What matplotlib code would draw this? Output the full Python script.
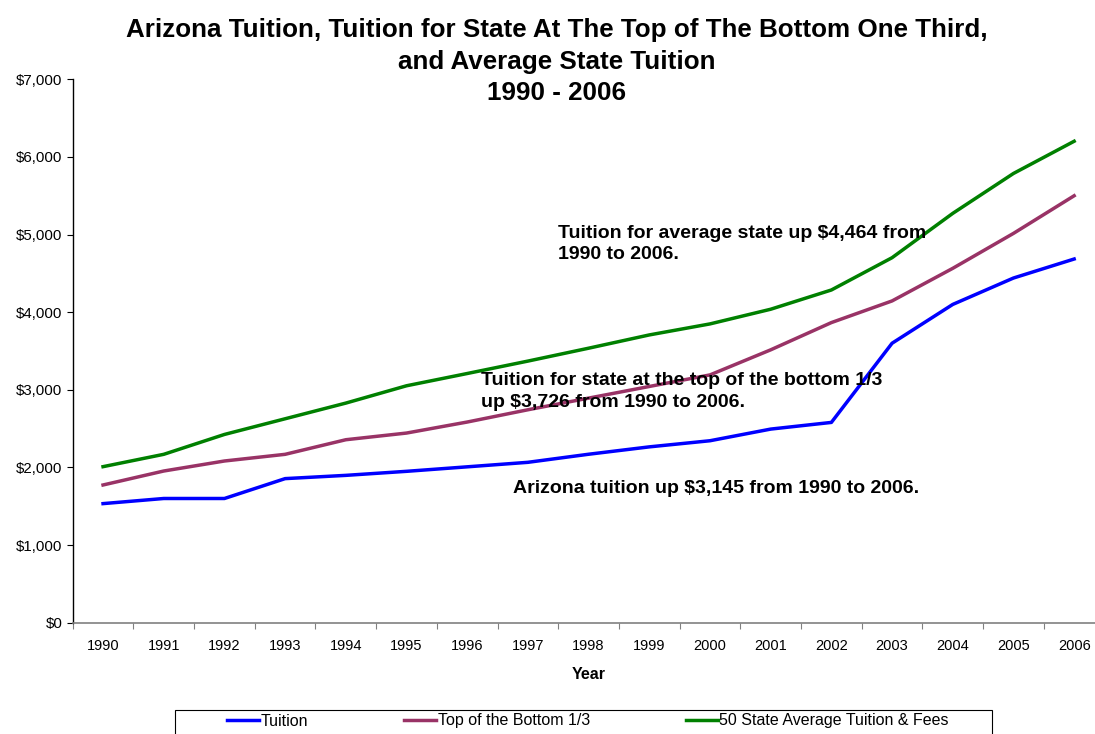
import matplotlib
matplotlib.use('Agg')
import matplotlib.pyplot as plt
from matplotlib.patches import Rectangle

plt.rcParams['font.family'] = ['Liberation Sans', 'DejaVu Sans']

# data
years = ['1990', '1991', '1992', '1993', '1994', '1995', '1996', '1997', '1998',
         '1999', '2000', '2001', '2002', '2003', '2004', '2005', '2006']
arizona = [1534, 1600, 1600, 1856, 1898, 1950, 2008, 2066, 2170,
           2265, 2344, 2494, 2580, 3600, 4100, 4440, 4685]
bottom_third = [1774, 1954, 2083, 2169, 2357, 2443, 2585, 2743, 2893,
                3043, 3192, 3515, 3866, 4145, 4565, 5015, 5500]
state_avg = [2010, 2169, 2425, 2627, 2829, 3052, 3210, 3370, 3536,
             3707, 3849, 4038, 4286, 4702, 5273, 5787, 6202]
series_names = ['Tuition', 'Top of the Bottom 1/3',
                '50 State Average Tuition & Fees']
y_ticks = [0, 1000, 2000, 3000, 4000, 5000, 6000, 7000]
y_labels = ['$0', '$1,000', '$2,000', '$3,000', '$4,000', '$5,000',
            '$6,000', '$7,000']

W, H = 1095, 734
fig = plt.figure(figsize=(W / 100, H / 100), dpi=100)
# plot area runs a little past the right edge, like the original
ax = fig.add_axes([72.7 / W, 1 - 622.7 / H, (1104.5 - 72.7) / W,
                   (622.7 - 79.3) / H])

x = list(range(len(years)))
ax.plot(x, arizona, color='#0000FF', lw=2.5, label=series_names[0])
ax.plot(x, bottom_third, color='#993366', lw=2.5, label=series_names[1])
ax.plot(x, state_avg, color='#008000', lw=2.5, label=series_names[2])

ax.set_xlim(-0.5, len(years) - 0.5)
ax.set_ylim(0, 7000)

# tick marks between categories, labels centred on them
ax.set_xticks([i - 0.5 for i in range(len(years) + 1)])
ax.set_xticklabels([])
ax.set_xticks(x, minor=True)
ax.set_xticklabels(years, minor=True, fontsize=10.5)
ax.tick_params(axis='x', which='major', direction='out', length=4.5,
               width=0.8, color='#808080')
ax.tick_params(axis='x', which='minor', length=0, pad=12)
ax.set_yticks(y_ticks)
ax.set_yticklabels(y_labels, fontsize=10.8)
ax.tick_params(axis='y', direction='out', length=4.5, width=0.8, pad=3)

for side in ['top', 'right']:
    ax.spines[side].set_visible(False)
ax.spines['bottom'].set_color('#808080')
ax.spines['bottom'].set_linewidth(1.2)
ax.spines['left'].set_linewidth(1.0)

ax.set_xlabel('Year', fontsize=11.5, fontweight='bold', labelpad=10)

fig.text(557 / W, 1 - 61.5 / H,
         'Arizona Tuition, Tuition for State At The Top of The Bottom One Third,\n'
         'and Average State Tuition\n1990 - 2006',
         ha='center', va='center', fontsize=18.7, fontweight='bold',
         linespacing=1.4)

# annotations
ax.text(7.50, 4878, 'Tuition for average state up $4,464 from\n1990 to 2006.',
        fontsize=14, fontweight='bold', va='center', ha='left',
        linespacing=1.38)
ax.text(6.23, 2978, 'Tuition for state at the top of the bottom 1/3\n'
        'up $3,726 from 1990 to 2006.',
        fontsize=14, fontweight='bold', va='center', ha='left',
        linespacing=1.38)
ax.text(6.76, 1735, 'Arizona tuition up $3,145 from 1990 to 2006.',
        fontsize=14, fontweight='bold', va='center', ha='left')

# legend box at the bottom (clipped by the figure edge)
fig.patches.append(Rectangle((175 / W, 1 - 745 / H), (992 - 175) / W, 35 / H,
                             transform=fig.transFigure, fill=False,
                             edgecolor='black', lw=0.8))
fig.legend(loc='center', bbox_to_anchor=(588 / W, 1 - 721 / H), ncol=3,
           frameon=False, fontsize=11.5, handlelength=2.0, handletextpad=0.1,
           columnspacing=6.0, borderpad=0)

fig.savefig('out.png', dpi=100)
